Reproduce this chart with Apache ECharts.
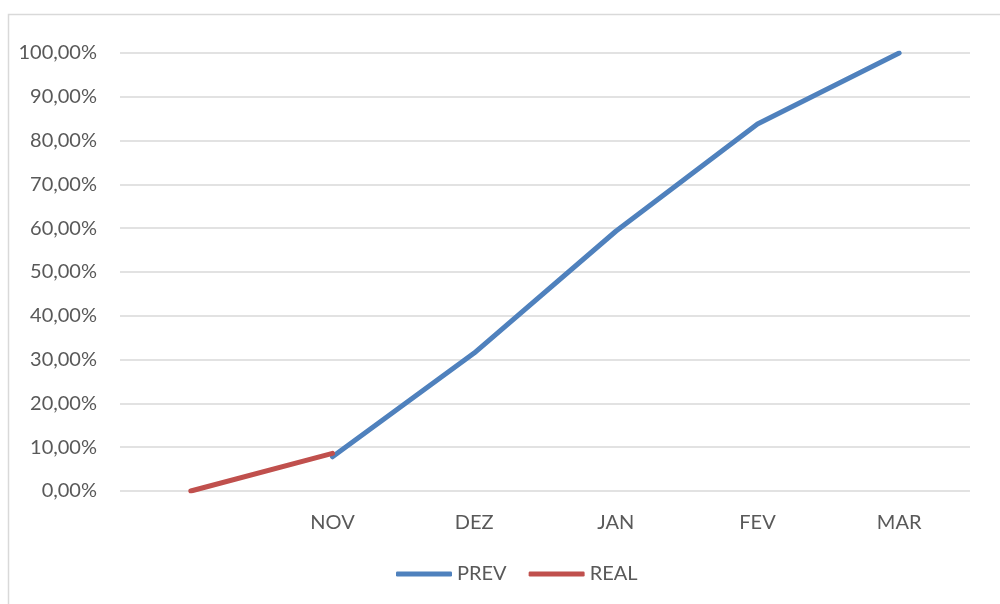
<!DOCTYPE html>
<html>
<head>
<meta charset="utf-8">
<script src="https://cdn.jsdelivr.net/npm/echarts@6/dist/echarts.min.js"></script>
<style>
  html, body { margin: 0; padding: 0; background: #fff; }
  #chart { width: 1000px; height: 604px; }
</style>
</head>
<body>
<div id="chart"></div>
<script>
// categories (first one is blank in the source)
const months = ['', 'NOV', 'DEZ', 'JAN', 'FEV', 'MAR'];
// cumulative percentage values
const prev = [null, 7.8, 31.5, 59.3, 83.8, 100];
const real = [0, 8.6, null, null, null, null];

let chart = echarts.init(document.getElementById('chart'));
let font = 'Lato, "Open Sans", sans-serif';

let option = {
  animation: false,
  textStyle: { fontFamily: font },
  graphic: [
    {
      type: 'rect',
      shape: { x: 8.5, y: 14.5, width: 1100, height: 700 },
      style: { fill: 'none', stroke: '#d9d9d9', lineWidth: 1.5 },
      silent: true
    }
  ],
  grid: { left: 120, right: 30, top: 53, bottom: 113 },
  xAxis: {
    type: 'category',
    data: months,
    boundaryGap: true,
    axisLine: { show: false },
    axisTick: { show: false },
    axisLabel: { color: '#595959', fontSize: 20, margin: 22, fontFamily: font }
  },
  yAxis: {
    type: 'value',
    min: 0,
    max: 100,
    interval: 10,
    axisLine: { show: false },
    axisTick: { show: false },
    splitLine: { lineStyle: { color: '#d9d9d9', width: 1.5 } },
    axisLabel: {
      color: '#595959',
      fontSize: 20,
      margin: 23,
      fontFamily: font,
      formatter: v => v.toFixed(2).replace('.', ',') + '%'
    }
  },
  legend: {
    bottom: 15,
    left: 391,
    itemWidth: 56,
    itemHeight: 5,
    itemGap: 22,
    textStyle: { color: '#595959', fontSize: 20, fontFamily: font },
    data: [
      { name: 'PREV', icon: 'roundRect' },
      { name: 'REAL', icon: 'roundRect' }
    ]
  },
  series: [
    {
      name: 'PREV',
      type: 'line',
      data: prev,
      symbol: 'none',
      color: '#4f81bd',
      lineStyle: { width: 5, cap: 'round', join: 'round' }
    },
    {
      name: 'REAL',
      type: 'line',
      data: real,
      symbol: 'none',
      color: '#c0504d',
      lineStyle: { width: 5, cap: 'round', join: 'round' }
    }
  ]
};
chart.setOption(option);
</script>
</body>
</html>
